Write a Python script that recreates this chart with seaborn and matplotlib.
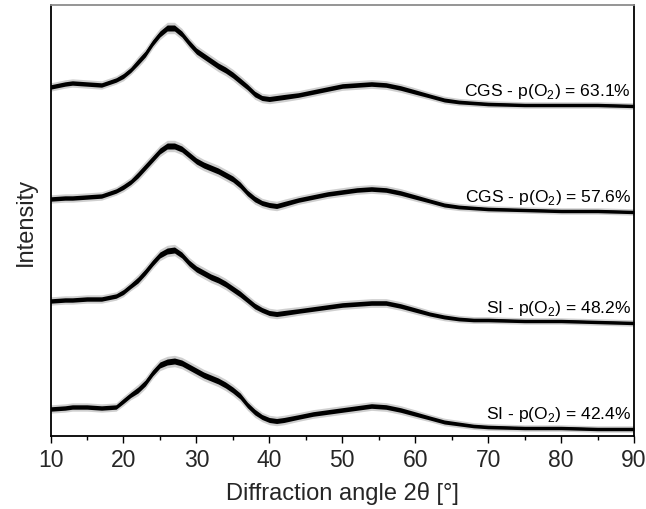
import matplotlib
matplotlib.use("Agg")
import matplotlib.pyplot as plt
from matplotlib.ticker import MultipleLocator
import numpy as np
import pandas as pd
import seaborn as sns

# Diffraction angle 2θ (degrees)
two_theta = [10, 12, 13, 15, 17, 19, 20, 21, 22, 23, 24, 25, 26, 27, 28, 29, 30,
             31, 32, 33, 34, 35, 36, 37, 38, 39, 40, 41, 42, 44, 46, 48, 50, 52,
             54, 56, 58, 60, 62, 64, 66, 68, 70, 75, 80, 85, 90]

# Intensity (arb. units) of each amorphous pattern
cgs_631 = [29, 32, 33, 32, 31, 36, 40, 46, 54, 62, 73, 82, 88, 88, 82, 73, 65,
           60, 55, 50, 46, 41, 35, 29, 22, 18, 17, 18, 19, 21, 24, 27, 30, 31,
           32, 31, 28, 24, 20, 16, 14, 13, 12, 11, 11, 11, 10]
cgs_576 = [22, 23, 23, 24, 25, 30, 34, 39, 46, 54, 62, 70, 75, 75, 72, 66, 60,
           56, 53, 50, 46, 42, 36, 28, 22, 18, 16, 15, 17, 21, 24, 27, 29, 31,
           32, 31, 28, 24, 20, 16, 14, 13, 12, 11, 10, 10, 9]
si_482 = [35, 36, 36, 37, 37, 40, 44, 50, 56, 64, 73, 81, 85, 86, 81, 73, 67,
          63, 59, 56, 52, 47, 42, 36, 30, 26, 23, 22, 23, 25, 27, 29, 31, 32,
          33, 33, 30, 26, 22, 19, 17, 16, 16, 15, 15, 14, 13]
si_424 = [27, 28, 29, 29, 28, 29, 35, 41, 46, 53, 63, 71, 74, 75, 73, 69, 65,
          61, 58, 55, 51, 46, 40, 31, 24, 19, 16, 15, 16, 19, 22, 24, 26, 28,
          30, 29, 26, 22, 18, 14, 12, 10, 9, 8, 8, 7, 7]

# Counting-noise half-width (arb. units) along the scan
noise = [2.2, 2.2, 2.2, 2.2, 2.2, 2.2, 2.5, 2.5, 3, 3, 3, 3, 3, 3, 3, 3,
         3, 3, 3, 3, 3, 3, 3, 2.8, 2.8, 2.5, 2.5, 2.5, 2.5, 2.3, 2.3,
         2.3, 2.3, 2.3, 2.3, 2.3, 2.3, 2.2, 2.0, 2.0, 1.9, 1.8, 1.8, 1.7, 1.7,
         1.7, 1.7]

labels = ["CGS - p(O$_\\mathregular{2}$) = 63.1%",
          "CGS - p(O$_\\mathregular{2}$) = 57.6%",
          "SI - p(O$_\\mathregular{2}$) = 48.2%",
          "SI - p(O$_\\mathregular{2}$) = 42.4%"]
series = [cgs_631, cgs_576, si_482, si_424]
offsets = [320, 215, 100, 0]

sns.set_theme(style="white")
plt.rcParams["font.family"] = ["Liberation Sans", "DejaVu Sans"]
plt.rcParams["mathtext.fontset"] = "custom"
plt.rcParams["mathtext.rm"] = "Liberation Sans"

frames = []
for lab, vals, off in zip(labels, series, offsets):
    frames.append(pd.DataFrame({"angle": two_theta,
                                "intensity": np.array(vals, float) + off,
                                "sample": lab}))
df = pd.concat(frames, ignore_index=True)

fig = plt.figure(figsize=(6.46, 5.10), dpi=100)
ax = fig.add_axes([50.5 / 646, 73 / 510, (634 - 50.5) / 646, (437 - 6) / 510])

nz = np.array(noise)
for lab, vals, off in zip(labels, series, offsets):
    y = np.array(vals, float) + off
    ax.fill_between(two_theta, y - 1.9 * nz, y + 1.9 * nz, color="#777777",
                    alpha=0.35, lw=0)
    ax.fill_between(two_theta, y - nz, y + nz, color="black", lw=0)

sns.lineplot(data=df, x="angle", y="intensity", units="sample",
             estimator=None, color="black", lw=1.0, ax=ax, legend=False)

for lab, vals, off in zip(labels, series, offsets):
    ax.text(89.6, vals[-1] + off + 11, lab, ha="right", va="baseline",
            fontsize=12.6, color="black")

ax.set_xlim(10, 90)
ax.set_ylim(0, 431)
ax.set_yticks([])
ax.xaxis.set_major_locator(MultipleLocator(10))
ax.xaxis.set_minor_locator(MultipleLocator(5))
ax.tick_params(axis="x", which="major", direction="out", length=5, width=1,
               color="black", labelsize=16.5, pad=4, bottom=True)
ax.tick_params(axis="x", which="minor", direction="out", length=3, width=1,
               color="black", bottom=True)
ax.set_xlabel("Diffraction angle 2θ [°]", fontsize=17, labelpad=7)
ax.set_ylabel("Intensity", fontsize=17, labelpad=10)

for side in ["left", "right", "bottom"]:
    ax.spines[side].set_color("black")
    ax.spines[side].set_linewidth(1.3)
ax.spines["top"].set_color("#8c8c8c")
ax.spines["top"].set_linewidth(1.3)

fig.savefig("out.png", dpi=100, facecolor="white")
